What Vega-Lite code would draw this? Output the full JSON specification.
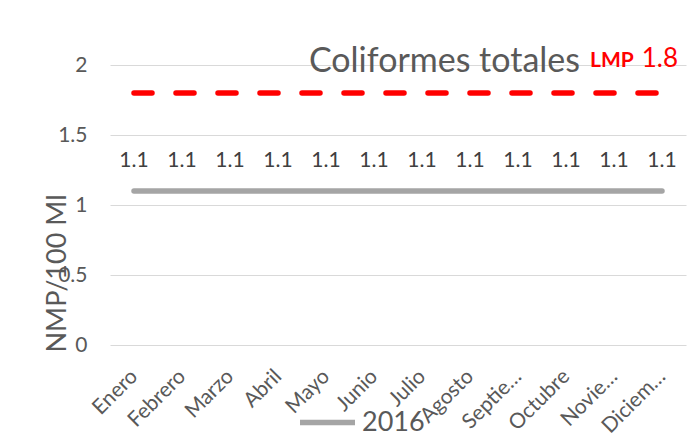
{
  "$schema": "https://vega.github.io/schema/vega-lite/v6.json",
  "width": 576,
  "height": 308,
  "autosize": {"type": "none"},
  "padding": {"left": 110, "top": 37, "right": 4, "bottom": 98},
  "background": "white",
  "config": {"view": {"stroke": null}, "font": "Lato"},
  "data": {
    "values": [
      {"mes": "Enero", "serie": "2016", "valor": 1.1, "lmp": 1.8},
      {"mes": "Febrero", "serie": "2016", "valor": 1.1, "lmp": 1.8},
      {"mes": "Marzo", "serie": "2016", "valor": 1.1, "lmp": 1.8},
      {"mes": "Abril", "serie": "2016", "valor": 1.1, "lmp": 1.8},
      {"mes": "Mayo", "serie": "2016", "valor": 1.1, "lmp": 1.8},
      {"mes": "Junio", "serie": "2016", "valor": 1.1, "lmp": 1.8},
      {"mes": "Julio", "serie": "2016", "valor": 1.1, "lmp": 1.8},
      {"mes": "Agosto", "serie": "2016", "valor": 1.1, "lmp": 1.8},
      {"mes": "Septiembre", "serie": "2016", "valor": 1.1, "lmp": 1.8},
      {"mes": "Octubre", "serie": "2016", "valor": 1.1, "lmp": 1.8},
      {"mes": "Noviembre", "serie": "2016", "valor": 1.1, "lmp": 1.8},
      {"mes": "Diciembre", "serie": "2016", "valor": 1.1, "lmp": 1.8}
    ]
  },
  "layer": [
    {
      "mark": {"type": "line", "strokeWidth": 5.5, "strokeCap": "round"},
      "encoding": {
        "x": {
          "field": "mes", "type": "nominal", "sort": null, "title": null,
          "axis": {
            "domain": false, "ticks": false, "tickSize": 0, "grid": false,
            "labelAngle": -45, "labelAlign": "right", "labelBaseline": "middle",
            "labelPadding": 28, "labelFontSize": 21, "labelColor": "#595959",
            "labelExpr": "datum.label == 'Septiembre' ? 'Septie…' : datum.label == 'Noviembre' ? 'Novie…' : datum.label == 'Diciembre' ? 'Diciem…' : datum.label"
          }
        },
        "y": {
          "field": "valor", "type": "quantitative",
          "scale": {"domain": [0, 2.2], "nice": false},
          "axis": {
            "values": [0, 0.5, 1, 1.5, 2], "format": "~g",
            "domain": false, "ticks": false, "tickSize": 0,
            "grid": true, "gridColor": "#d9d9d9", "gridWidth": 1,
            "labelFontSize": 21, "labelColor": "#595959", "labelPadding": 23,
            "title": "NMP/100 Ml", "titleFontSize": 27, "titleColor": "#595959",
            "titleFontWeight": "normal", "titleX": -45, "titleY": 236,
            "titleAngle": -90, "titleAlign": "center", "titleBaseline": "alphabetic"
          }
        },
        "color": {
          "field": "serie", "type": "nominal",
          "scale": {"range": ["#a5a5a5"]},
          "legend": {
            "orient": "none", "legendX": 187, "legendY": 355, "title": null,
            "symbolType": "stroke", "symbolSize": 3025, "symbolStrokeWidth": 5.5,
            "labelFontSize": 27, "labelColor": "#595959", "labelOffset": 4
          }
        }
      }
    },
    {
      "mark": {"type": "line", "color": "#ff0000", "strokeWidth": 5.5, "strokeDash": [18, 24], "strokeCap": "round"},
      "encoding": {
        "x": {"field": "mes", "type": "nominal", "sort": null},
        "y": {"field": "lmp", "type": "quantitative"}
      }
    },
    {
      "mark": {"type": "text", "fontSize": 21, "color": "#404040", "baseline": "alphabetic", "dy": -24},
      "encoding": {
        "x": {"field": "mes", "type": "nominal", "sort": null},
        "y": {"field": "valor", "type": "quantitative"},
        "text": {"field": "valor", "type": "quantitative", "format": ".1f"}
      }
    },
    {
      "data": {"values": [{"t": "Coliformes totales"}]},
      "mark": {"type": "text", "fontSize": 34, "color": "#595959", "align": "right", "baseline": "alphabetic", "dx": -34, "dy": 7},
      "encoding": {
        "x": {"datum": "Noviembre", "type": "nominal"},
        "y": {"datum": 2, "type": "quantitative"},
        "text": {"field": "t"}
      }
    },
    {
      "data": {"values": [{"t": "LMP", "v": 1.8}]},
      "layer": [
        {
          "mark": {"type": "text", "fontSize": 21, "fontWeight": "bold", "color": "#ff0000", "align": "left", "baseline": "alphabetic", "dx": -24, "dy": 2},
          "encoding": {
            "x": {"datum": "Noviembre", "type": "nominal"},
            "y": {"datum": 2, "type": "quantitative"},
            "text": {"field": "t"}
          }
        },
        {
          "mark": {"type": "text", "fontSize": 26, "color": "#ff0000", "align": "right", "baseline": "alphabetic", "dx": 16, "dy": 2},
          "encoding": {
            "x": {"datum": "Diciembre", "type": "nominal"},
            "y": {"datum": 2, "type": "quantitative"},
            "text": {"field": "v", "type": "quantitative", "format": ".1f"}
          }
        }
      ]
    }
  ]
}
